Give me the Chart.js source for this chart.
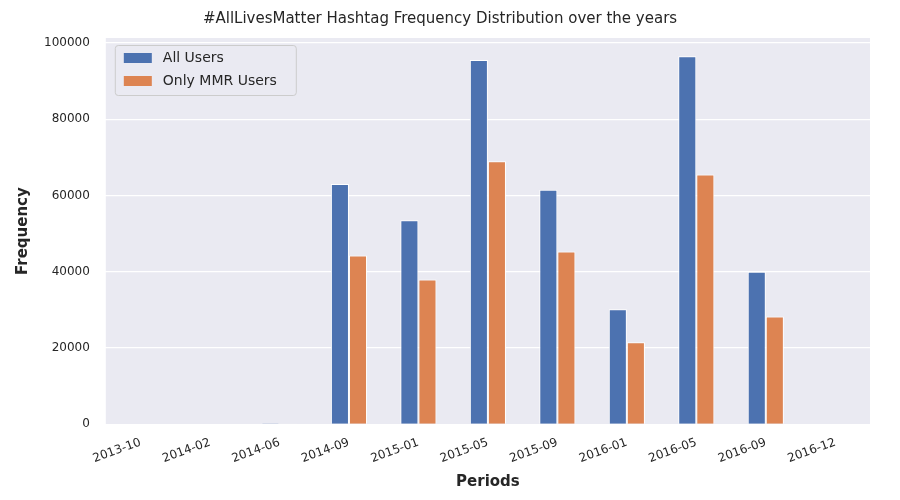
<!DOCTYPE html>
<html>
<head>
<meta charset="utf-8">
<script src="https://cdn.jsdelivr.net/npm/chart.js@4"></script>
<style>
  html, body { margin: 0; padding: 0; background: #fff; }
  #wrap { width: 900px; height: 500px; }
</style>
</head>
<body>
<div id="wrap"><canvas id="c"></canvas></div>
<script>
// periods on the x axis
const periods = ["2013-10", "2014-02", "2014-06", "2014-09", "2015-01", "2015-05",
                 "2015-09", "2016-01", "2016-05", "2016-09", "2016-12"];
const allUsers = [0, 0, 300, 63000, 53500, 95500, 61500, 30200, 96500, 40000, 0];
const mmrUsers = [0, 0, 100, 44300, 38000, 69000, 45300, 21500, 65500, 28300, 0];
const yTicks = [0, 20000, 40000, 60000, 80000, 100000];

// seaborn darkgrid style background
const plotBg = {
    id: "plotBg",
    beforeDraw(chart) {
        const { ctx, chartArea: a } = chart;
        ctx.save();
        ctx.fillStyle = "#EAEAF2";
        ctx.fillRect(a.left, a.top, a.right - a.left, a.bottom - a.top);
        ctx.restore();
    }
};

// legend box in the upper left of the plot, like matplotlib
const boxLegend = {
    id: "boxLegend",
    afterDraw(chart) {
        const { ctx, chartArea: a } = chart;
        const x = a.left + 9, y = a.top + 7, w = 181, h = 50;
        ctx.save();
        ctx.fillStyle = "rgba(234,234,242,0.85)";
        ctx.strokeStyle = "#cccccc";
        ctx.lineWidth = 1;
        ctx.beginPath();
        ctx.roundRect(x + 0.5, y + 0.5, w, h, 3);
        ctx.fill();
        ctx.stroke();
        ctx.font = "14px 'DejaVu Sans'";
        ctx.textBaseline = "middle";
        chart.data.datasets.forEach((ds, i) => {
            const ry = y + 13 + i * 23;
            ctx.fillStyle = ds.backgroundColor;
            ctx.fillRect(x + 9, ry - 5, 28, 10);
            ctx.fillStyle = "#262626";
            ctx.fillText(ds.label, x + 48, ry);
        });
        ctx.restore();
    }
};

new Chart(document.getElementById("c"), {
    type: "bar",
    data: {
        labels: periods,
        datasets: [
            { label: "All Users", data: allUsers, backgroundColor: "#4C72B0",
              borderColor: "#fff", borderWidth: 1, categoryPercentage: 0.52, barPercentage: 1 },
            { label: "Only MMR Users", data: mmrUsers, backgroundColor: "#DD8452",
              borderColor: "#fff", borderWidth: 1, categoryPercentage: 0.52, barPercentage: 1 }
        ]
    },
    options: {
        responsive: true,
        maintainAspectRatio: false,
        animation: false,
        layout: { padding: { left: 10, right: 30, top: 2, bottom: 5 } },
        plugins: {
            title: {
                display: true,
                text: "#AllLivesMatter Hashtag Frequency Distribution over the years",
                color: "#262626",
                font: { family: "DejaVu Sans", size: 15, weight: "normal" },
                padding: { top: 8, bottom: 10 }
            },
            legend: { display: false },
            tooltip: { enabled: false }
        },
        scales: {
            x: {
                grid: { display: false },
                border: { display: false },
                ticks: {
                    color: "#262626", maxRotation: 20, minRotation: 20,
                    font: { family: "DejaVu Sans", size: 12 }
                },
                title: {
                    display: true, text: "Periods", color: "#262626",
                    font: { family: "DejaVu Sans", size: 15, weight: "bold" }
                }
            },
            y: {
                min: 0, max: 101300,
                afterBuildTicks(axis) { axis.ticks = yTicks.map(v => ({ value: v })); },
                grid: { color: "#fff", lineWidth: 1.2 },
                border: { display: false },
                ticks: {
                    color: "#262626", padding: 8,
                    callback: v => String(v),
                    font: { family: "DejaVu Sans", size: 12 }
                },
                title: {
                    display: true, text: "Frequency", color: "#262626",
                    font: { family: "DejaVu Sans", size: 15, weight: "bold" }
                }
            }
        }
    },
    plugins: [plotBg, boxLegend]
});
</script>
</body>
</html>
